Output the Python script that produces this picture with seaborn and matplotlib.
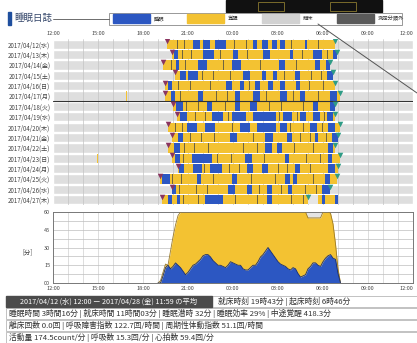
import numpy as np
import pandas as pd
import matplotlib
matplotlib.use("Agg")
import matplotlib.pyplot as plt
from matplotlib.patches import Rectangle
from matplotlib.lines import Line2D
import seaborn as sns

sns.set_theme(style="white")
plt.rcParams['font.family'] = ['Noto Sans CJK JP', 'DejaVu Sans']

# ---- data ----
dates = ["2017/04/12(水)", "2017/04/13(木)", "2017/04/14(金)", "2017/04/15(土)",
         "2017/04/16(日)", "2017/04/17(月)", "2017/04/18(火)", "2017/04/19(水)",
         "2017/04/20(木)", "2017/04/21(金)", "2017/04/22(土)", "2017/04/23(日)",
         "2017/04/24(月)", "2017/04/25(火)", "2017/04/26(水)", "2017/04/27(木)"]
bed_times = ["19:36", "19:56", "19:20", "20:08", "19:28", "19:28", "20:00", "20:16",
             "19:40", "19:56", "19:40", "19:56", "20:20", "19:08", "19:56", "19:16"]
wake_times = ["06:48", "06:56", "06:28", "06:40", "06:48", "07:08", "06:48", "06:48",
              "07:08", "07:00", "06:48", "07:08", "07:00", "06:56", "06:28", "05:00"]

sleep_blocks = [
    [("21:20", "21:48"), ("22:00", "22:28"), ("22:48", "23:32"), ("01:20", "01:36"), ("01:56", "02:20"), ("02:36", "02:56"), ("03:08", "03:28"), ("04:48", "04:56")],
    [("20:04", "20:20"), ("22:00", "22:44"), ("00:00", "00:20"), ("02:00", "02:28"), ("03:48", "04:00"), ("05:20", "05:56"), ("06:40", "06:56")],
    [("20:12", "20:24"), ("21:40", "22:16"), ("23:56", "00:32"), ("03:04", "03:28"), ("05:28", "05:48"), ("06:12", "06:28")],
    [("20:28", "20:52"), ("21:00", "21:40"), ("00:40", "01:08"), ("01:56", "02:12"), ("02:40", "02:56"), ("04:08", "04:28"), ("06:16", "06:40")],
    [("19:40", "19:56"), ("23:32", "23:56"), ("00:28", "00:44"), ("01:28", "01:48"), ("02:20", "02:40"), ("03:08", "03:28"), ("04:12", "04:28")],
    [("19:52", "20:08"), ("21:40", "22:00"), ("00:08", "00:28"), ("01:20", "01:48"), ("03:08", "03:36"), ("04:28", "04:48"), ("06:28", "06:56")],
    [("20:12", "20:40"), ("22:16", "22:36"), ("00:08", "00:28"), ("01:08", "01:36"), ("05:20", "05:40"), ("06:28", "06:48")],
    [("20:28", "20:56"), ("22:36", "23:20"), ("23:56", "00:52"), ("01:20", "02:52"), ("03:20", "03:56"), ("04:28", "04:52"), ("05:20", "05:48"), ("06:16", "06:40")],
    [("20:56", "21:36"), ("22:08", "22:48"), ("00:28", "01:08"), ("01:36", "02:52"), ("03:08", "03:36"), ("05:08", "05:36"), ("06:20", "06:48")],
    [("20:20", "20:40"), ("23:48", "00:16"), ("02:08", "02:40"), ("03:36", "03:56"), ("05:28", "05:40"), ("06:36", "07:00")],
    [("20:04", "20:28"), ("02:08", "02:36"), ("02:56", "03:16"), ("06:20", "06:40")],
    [("20:08", "20:28"), ("21:16", "22:36"), ("00:48", "01:16"), ("03:28", "03:44"), ("06:20", "06:36")],
    [("20:24", "20:44"), ("21:20", "21:56"), ("22:28", "23:16"), ("00:56", "01:20"), ("01:56", "02:20"), ("04:08", "04:28"), ("06:20", "06:48")],
    [("19:16", "19:48"), ("21:36", "21:52"), ("23:56", "00:16"), ("03:28", "03:48"), ("04:00", "04:16"), ("06:08", "06:28")],
    [("19:56", "20:12"), ("23:40", "00:08"), ("00:56", "01:16"), ("02:16", "02:36"), ("03:40", "03:56"), ("05:56", "06:28")],
    [("19:40", "19:56"), ("20:16", "20:28"), ("22:08", "23:20"), ("02:16", "02:36"), ("05:56", "06:08"), ("06:48", "07:00")],
]

unknown_marks = [
    ["20:16", "20:44", "00:04", "00:52", "03:52", "05:40"],
    ["20:36", "21:12", "23:08", "00:56", "04:36", "06:16"],
    ["19:52", "20:48", "23:20", "01:48", "04:12"],
    ["21:56", "22:40", "23:48", "03:24", "05:12", "05:52"],
    ["20:20", "21:08", "22:28", "01:04", "05:04", "06:00"],
    ["20:28", "22:52", "23:36", "02:12", "04:00", "05:40"],
    ["20:52", "21:40", "23:28", "02:24", "03:12", "04:40"],
    ["21:28", "22:08", "23:40", "03:04", "04:16", "06:04"],
    ["20:08", "20:36", "23:56", "03:48", "04:40", "05:56"],
    ["21:08", "21:52", "22:44", "01:20", "04:28", "05:08", "06:12"],
    ["20:44", "21:24", "22:20", "00:40", "01:36", "04:04", "05:20"],
    ["20:40", "22:56", "23:52", "02:04", "04:52", "05:48"],
    ["22:04", "23:44", "00:24", "03:00", "03:36", "05:08"],
    ["19:56", "20:32", "22:40", "01:12", "02:48", "05:20"],
    ["20:24", "21:32", "22:16", "01:44", "03:12", "04:48", "05:32"],
    ["20:40", "21:40", "00:08", "01:36", "03:52", "04:40"],
]

extra_awake = {5: [("16:52", "16:56")], 11: [("14:56", "15:00")], 15: [("05:40", "07:00")]}
out_of_bed = {15: [("05:00", "05:40")]}

# averaged minutes per 10-min slot (bottom chart)
slot_start = "19:00"
sleep_min = [0, 0, 6, 13, 15, 12, 14, 17, 15, 13, 10, 7,
             9, 12, 15, 16, 18, 20, 23, 24, 24, 22, 19, 17,
             15, 15, 14, 13, 15, 18, 17, 16, 15, 15, 12, 11,
             11, 13, 15, 15, 18, 22, 24, 27, 30, 27, 24, 21,
             18, 16, 15, 14, 12, 11, 13, 12, 8, 5, 6, 7,
             12, 14, 17, 17, 15, 14, 18, 21, 23, 24, 21, 20,
             8, 0]
inbed_min = [0, 2, 9, 16, 15, 27, 39, 49, 57, 60, 60, 60,
             60, 60, 60, 60, 60, 60, 60, 60, 60, 60, 60, 60,
             60, 60, 60, 60, 60, 60, 60, 60, 60, 60, 60, 60,
             60, 60, 60, 60, 60, 60, 60, 60, 60, 60, 60, 60,
             60, 60, 60, 60, 60, 60, 60, 60, 60, 60, 60, 60,
             55, 55, 55, 55, 55, 55, 60, 60, 60, 59, 50, 33,
             12, 0]
outbed_min = [0] * 60 + [5, 5, 5, 5, 5, 5] + [0] * 8

tick_labels = ["12:00", "15:00", "18:00", "21:00", "00:00", "03:00", "06:00", "09:00", "12:00"]
legend_labels = ["睡眠", "覚醒", "離床", "測定分類外"]

summary_head = "2017/04/12 (水) 12:00 ー 2017/04/28 (金) 11:59 の平均"
summary_lines = ["就床時刻 19時43分 | 起床時刻 6時46分",
                 "睡眠時間 3時間16分 | 就床時間 11時間03分 | 睡眠潜時 32分 | 睡眠効率 29% | 中途覚醒 418.3分",
                 "離床回数 0.0回 | 呼吸障害指数 122.7回/時間 | 周期性体動指数 51.1回/時間",
                 "活動量 174.5count/分 | 呼吸数 15.3回/分 | 心拍数 59.4回/分"]

BLUE = "#2c57c2"
YELLOW = "#f3c232"
LGRAY = "#d2d2d2"
DGRAY = "#5a5a5a"
MARK = "#6f6440"


def hrs(s):
    h, m = map(int, s.split(":"))
    v = h + m / 60 - 12
    return v + 24 if v < 0 else v


W, H = 417, 343
fig = plt.figure(figsize=(W / 100, H / 100), dpi=100)


def fx(x):
    return x / W


def fy(y):
    return 1 - y / H


def fix_last_tick(a):
    labs = a.get_xticklabels()
    labs[-1].set_horizontalalignment("right")
    labs[0].set_horizontalalignment("center")


# ---- top: per-night chart ----
ax = fig.add_axes([fx(53), fy(205), fx(360), 166 / H])
ax.set_xlim(0, 24)
ax.set_ylim(15.5, -0.5)
for i in range(len(dates)):
    ax.barh(i, 24, left=0, height=0.88, color="#dedede", zorder=0)
for h in range(1, 24):
    ax.axvline(h, color="#c4c4c4", lw=0.5, zorder=0.5)
ax.axhline(5.5, color="#333333", lw=0.8, zorder=5)

rows = []
for i in range(len(dates)):
    b, w = hrs(bed_times[i]), hrs(wake_times[i])
    rows.append(dict(row=i, left=b, width=w - b, kind="awake"))
    for s, e in extra_awake.get(i, []):
        rows.append(dict(row=i, left=hrs(s), width=hrs(e) - hrs(s), kind="awake"))
    for s, e in out_of_bed.get(i, []):
        rows.append(dict(row=i, left=hrs(s), width=hrs(e) - hrs(s), kind="out"))
    for s, e in sleep_blocks[i]:
        rows.append(dict(row=i, left=hrs(s), width=hrs(e) - hrs(s), kind="sleep"))
    for t in unknown_marks[i]:
        rows.append(dict(row=i, left=hrs(t), width=4 / 60, kind="mark"))
seg = pd.DataFrame(rows)
colors = {"awake": YELLOW, "out": "#e6e6e6", "sleep": BLUE, "mark": MARK}
for k, z in [("awake", 1), ("out", 1.5), ("sleep", 2), ("mark", 3)]:
    d = seg[seg.kind == k]
    ax.barh(d.row, d.width, left=d.left, height=0.88, color=colors[k], lw=0, zorder=z)

tri = pd.DataFrame({"bed": [hrs(t) for t in bed_times],
                    "wake": [hrs(t) for t in wake_times],
                    "row": np.arange(len(dates)) - 0.28})
sns.scatterplot(data=tri, x="bed", y="row", marker="v", color="#8a3560", s=16,
                linewidth=0, ax=ax, zorder=6, legend=False)
sns.scatterplot(data=tri, x="wake", y="row", marker="v", color="#2f9c86", s=16,
                linewidth=0, ax=ax, zorder=6, legend=False)

ax.set_xticks(range(0, 25, 3))
ax.set_xticklabels(tick_labels)
ax.xaxis.tick_top()
ax.set_yticks(range(len(dates)))
ax.set_yticklabels(dates)
ax.tick_params(axis="both", length=0, labelsize=4.4, colors="#444444", pad=2)
ax.tick_params(axis="x", labelsize=4)
fix_last_tick(ax)
ax.set_xlabel("")
ax.set_ylabel("")
for sp in ax.spines.values():
    sp.set_visible(False)

# ---- bottom: averaged profile ----
bx = fig.add_axes([fx(53), fy(283), fx(360), 71 / H])
t0 = hrs(slot_start)
prof = pd.DataFrame({"t": t0 + np.arange(len(sleep_min)) / 6,
                     "sleep": sleep_min, "inbed": inbed_min, "out": outbed_min})
prof["total"] = prof.inbed + prof.out
bx.set_xlim(0, 24)
bx.set_ylim(0, 60)
for h in range(1, 24):
    bx.axvline(h, color="#d0d0d0", lw=0.5, zorder=0)
for v in np.arange(7.5, 60, 7.5):
    bx.axhline(v, color="#bdbdbd", lw=0.5, zorder=0)
bx.fill_between(prof.t, prof.inbed, prof.total, color="#e4e4e4", lw=0, zorder=1)
bx.fill_between(prof.t, prof.sleep, prof.inbed, color=YELLOW, lw=0, zorder=1)
bx.fill_between(prof.t, 0, prof.sleep, color=BLUE, lw=0, zorder=2)
sns.lineplot(data=prof, x="t", y="inbed", color="#9a7a2a", lw=0.6, ax=bx, zorder=3)
sns.lineplot(data=prof, x="t", y="sleep", color="#1c2f6a", lw=0.6, ax=bx, zorder=3)
bx.set_xticks(range(0, 25, 3))
bx.set_xticklabels(tick_labels)
bx.set_yticks([0, 15, 30, 45, 60])
bx.set_yticklabels(["00", "15", "30", "45", "60"])
bx.tick_params(axis="both", length=0, labelsize=4, colors="#444444", pad=2)
fix_last_tick(bx)
bx.set_xlabel("")
bx.set_ylabel("[分]", fontsize=4.5, rotation=0, color="#444444", labelpad=0)
bx.yaxis.set_label_coords(-25 / 360, 0.38)
for sp in bx.spines.values():
    sp.set_color("#777777")
    sp.set_linewidth(0.7)

# ---- header ----
fig.add_artist(Rectangle((fx(226), fy(12)), fx(156), 12 / H, color="#111111",
                         transform=fig.transFigure))
for x0 in (258, 330):
    fig.add_artist(Rectangle((fx(x0), fy(11)), fx(26), 9 / H, fill=False,
                             ec="#8a7a30", lw=0.6, transform=fig.transFigure))
fig.add_artist(Rectangle((fx(8), fy(25)), fx(2.5), 13 / H, color="#1f4f9e",
                         transform=fig.transFigure))
fig.text(fx(14), fy(18.5), "睡眠日誌", fontsize=6.8, color="#34466a", va="center")
fig.add_artist(Line2D([fx(53), fx(109)], [fy(18.5), fy(18.5)], color="#555555", lw=0.6))
fig.add_artist(Rectangle((fx(109), fy(24.5)), fx(293), 12 / H, fill=True, fc="white",
                         ec="#888888", lw=0.6, transform=fig.transFigure))
leg_x = [113, 187, 262, 337]
leg_c = [BLUE, YELLOW, LGRAY, DGRAY]
for x0, c, lab in zip(leg_x, leg_c, legend_labels):
    fig.add_artist(Rectangle((fx(x0), fy(23)), fx(37), 9 / H, color=c,
                             transform=fig.transFigure))
    fig.text(fx(x0 + 41), fy(18.5), lab, fontsize=3.8, color="#333333", va="center")
fig.add_artist(Line2D([fx(318), fx(417)], [fy(24), fy(93)], color="#555555", lw=0.7))

# ---- summary table ----
row_tops = [296, 308, 320, 332]
for k, (y0, txt) in enumerate(zip(row_tops, summary_lines)):
    fig.add_artist(Rectangle((fx(6), fy(y0 + 11)), fx(420), 11 / H, fc="white",
                             ec="#aaaaaa", lw=0.5, transform=fig.transFigure))
    x_text = 218 if k == 0 else 9
    fig.text(fx(x_text), fy(y0 + 5.7), txt, fontsize=5.6, color="#333333", va="center")
fig.add_artist(Rectangle((fx(6), fy(307)), fx(206), 11 / H, color="#4b4b4b",
                         transform=fig.transFigure))
fig.text(fx(109), fy(301.7), summary_head, fontsize=5.2, color="white",
         va="center", ha="center")

fig.savefig("out.png", dpi=100)
